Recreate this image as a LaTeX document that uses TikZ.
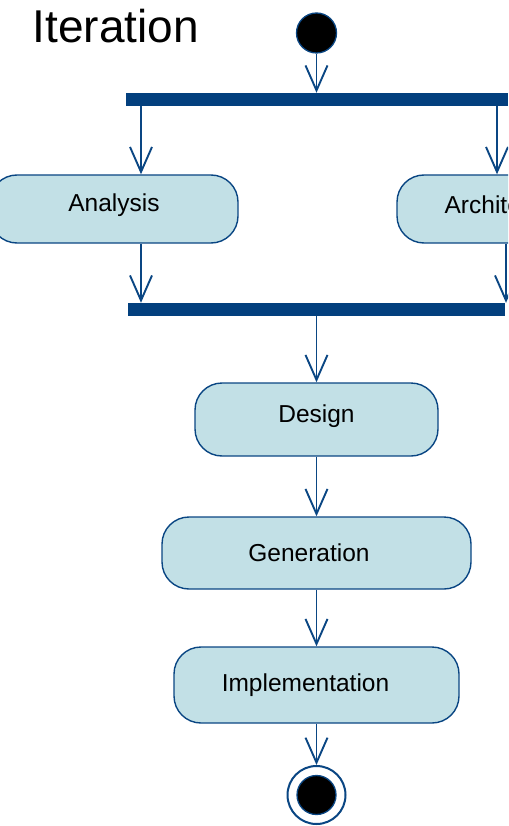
\documentclass[tikz,border=0pt]{standalone}
\usepackage{fontspec}
\setmainfont{Liberation Sans}
\usetikzlibrary{positioning,arrows.meta}
\definecolor{umlline}{HTML}{0A4683}
\definecolor{umlbar}{HTML}{03407E}
\definecolor{umlfill}{HTML}{C2E0E6}
\tikzset{
  activity/.style={rectangle,rounded corners=27pt,draw=umlline,line width=1.4pt,
                   fill=umlfill,inner sep=0,font=\fontsize{24.5}{28}\selectfont},
  syncbar/.style={rectangle,fill=umlbar,minimum height=13pt,inner sep=0},
  initial/.style={circle,draw=umlline,line width=1.3pt,fill=black,minimum size=40pt,inner sep=0},
  % the final node: a ring with a black disc in it
  final/.style={circle,draw=umlline,line width=2pt,fill=white,minimum size=58pt,inner sep=0,
                path picture={\fill[black,draw=umlline,line width=1.3pt] (path picture bounding box.center) circle (19.5pt);}},
  flow/.style={-{Straight Barb[length=25pt,width=22pt]},draw=umlline,line width=1.9pt},
  title/.style={font=\fontsize{46}{50}\selectfont},
}
\begin{document}
\begin{tikzpicture}[x=1pt,y=-1pt]
  \useasboundingbox (0,0) rectangle (508,826);
  \clip (0,0) rectangle (508,826);
  \node[title,anchor=base west] (iter) at (29,43) {Iteration};
  \node[initial] (start) at (316.5,33) {};
  % fork and join bars
  \node[syncbar,minimum width=382pt] (fork) at (317,99.5) {};
  \node[syncbar,minimum width=377pt] (join) at (316.5,309.5) {};
  % the two parallel activities, both cut by the page edge
  \node[activity,minimum width=248pt,minimum height=68pt] (ana) at (114,209) {\raisebox{4pt}[\height][\depth]{Analysis}};
  \node[activity,minimum width=226pt,minimum height=68pt] (arch) at (510,209) {\raisebox{4pt}[\height][\depth]{Architecture}};
  % the sequence below the join
  \node[activity,minimum width=243pt,minimum height=73pt] (design) at (316.5,419.5) {\raisebox{3pt}[\height][\depth]{Design}};
  \node[activity,minimum width=309pt,minimum height=72pt] (gen) at (316.5,553) {Generation\hspace*{15pt}};
  \node[activity,minimum width=285pt,minimum height=76pt] (impl) at (316.5,685) {Implementation\hspace*{22pt}};
  \node[final] (end) at (316.5,795) {};
  \coordinate (leftX) at (141,0);
  \coordinate (forkR) at (497,0);
  \coordinate (joinR) at (506,0);
  \draw[flow] (start) -- (fork.north -| start);
  \draw[flow] (fork.south -| leftX) -- (ana.north -| leftX);
  \draw[flow] (fork.south -| forkR) -- (arch.north -| forkR);
  \draw[flow] (ana.south -| leftX) -- (join.north -| leftX);
  \draw[flow] (arch.south -| joinR) -- (join.north -| joinR);
  \draw[flow] (join) -- (design);
  \draw[flow] (design) -- (gen);
  \draw[flow] (gen) -- (impl);
  \draw[flow] (impl) -- (end);
\end{tikzpicture}
\end{document}
